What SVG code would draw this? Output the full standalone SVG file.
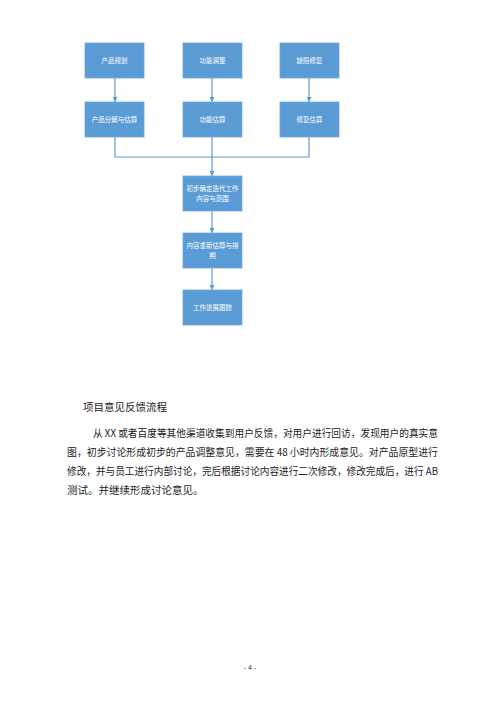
<svg xmlns="http://www.w3.org/2000/svg" width="500" height="707" viewBox="0 0 500 707">
<defs>
<marker id="ah" viewBox="0 0 10 10" refX="10" refY="5" markerWidth="5" markerHeight="5" orient="auto" markerUnits="userSpaceOnUse">
<path d="M0,0 L10,5 L0,10 z" fill="#5B9BD5"/>
</marker>
<style>
.box{fill:#5B9BD5;stroke:#6FA8DC;stroke-width:0.8}
.bt{fill:#fff;font-family:"Noto Sans CJK SC","Noto Sans",sans-serif;font-size:6.5px;text-anchor:middle}
.ln{fill:none;stroke:#5B9BD5;stroke-width:1.2}
.body{fill:#222;font-family:"Noto Sans CJK SC","Liberation Serif",serif;font-size:10.5px}
</style>
</defs>
<rect width="500" height="707" fill="#fff"/>
<g id="connectors">
<line class="ln" x1="115" y1="78" x2="115" y2="102" marker-end="url(#ah)"/>
<line class="ln" x1="212" y1="78" x2="212" y2="102" marker-end="url(#ah)"/>
<line class="ln" x1="309" y1="78" x2="309" y2="102" marker-end="url(#ah)"/>
<polyline class="ln" points="115,137 115,157 309,157 309,137"/>
<line class="ln" x1="212" y1="137" x2="212" y2="157"/>
<line class="ln" x1="212" y1="157" x2="212" y2="176" marker-end="url(#ah)"/>
<line class="ln" x1="212" y1="211" x2="212" y2="233" marker-end="url(#ah)"/>
<line class="ln" x1="212" y1="268" x2="212" y2="290" marker-end="url(#ah)"/>
</g>
<g id="n1"><rect class="box" x="85" y="43" width="59" height="35"/><text class="bt" x="114.5" y="62.5">产品规划</text></g>
<g id="n2"><rect class="box" x="183" y="43" width="59" height="35"/><text class="bt" x="212.5" y="62.5">功能调整</text></g>
<g id="n3"><rect class="box" x="280" y="43" width="59" height="35"/><text class="bt" x="309.5" y="62.5">缺陷修复</text></g>
<g id="n4"><rect class="box" x="85" y="102" width="59" height="35"/><text class="bt" x="114.5" y="121.5">产品分解与估算</text></g>
<g id="n5"><rect class="box" x="183" y="102" width="59" height="35"/><text class="bt" x="212.5" y="121.5">功能估算</text></g>
<g id="n6"><rect class="box" x="280" y="102" width="59" height="35"/><text class="bt" x="309.5" y="121.5">修复估算</text></g>
<g id="n7"><rect class="box" x="183" y="176" width="59" height="35"/><text class="bt" x="212.5" y="191">初步确定迭代工作</text><text class="bt" x="212.5" y="200.5">内容与范围</text></g>
<g id="n8"><rect class="box" x="183" y="233" width="59" height="35"/><text class="bt" x="212.5" y="248">内容重新估算与排</text><text class="bt" x="212.5" y="257.5">期</text></g>
<g id="n9"><rect class="box" x="183" y="290" width="59" height="35"/><text class="bt" x="212.5" y="309.5">工作进展跟踪</text></g>
<text class="body" x="83" y="411" font-size="10">项目意见反馈流程</text>
<text class="body" x="93" y="437" textLength="345" lengthAdjust="spacingAndGlyphs">从 XX 或者百度等其他渠道收集到用户反馈，对用户进行回访，发现用户的真实意</text>
<text class="body" x="67" y="456" textLength="371" lengthAdjust="spacingAndGlyphs">图，初步讨论形成初步的产品调整意见，需要在 48 小时内形成意见。对产品原型进行</text>
<text class="body" x="67" y="475" textLength="371" lengthAdjust="spacingAndGlyphs">修改，并与员工进行内部讨论，完后根据讨论内容进行二次修改，修改完成后，进行 AB</text>
<text class="body" x="67" y="494">测试。并继续形成讨论意见。</text>
<text x="250" y="670" font-family="Liberation Sans,sans-serif" font-size="7" fill="#333" text-anchor="middle">- 4 -</text>
</svg>
